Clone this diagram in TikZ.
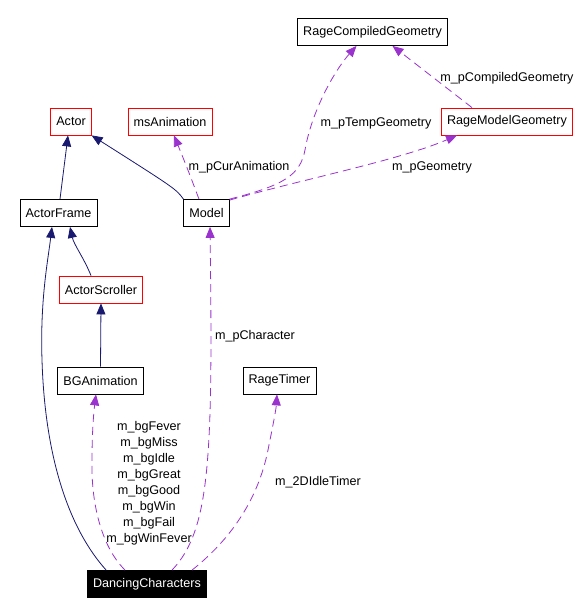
\documentclass[tikz,border=0pt]{standalone}
\usepackage{fontspec}
\setmainfont{Liberation Sans}
\usetikzlibrary{arrows.meta}
\definecolor{inhblue}{RGB}{25,25,112}
\definecolor{usepurple}{RGB}{154,50,205}

\begin{document}
\begin{tikzpicture}[x=1pt, y=-1pt, line width=0.8pt]
      \tikzstyle{every node}=[font=\fontsize{12.6}{16}\selectfont]
      \tikzstyle{cls}=[draw, minimum height=27pt, inner xsep=5.5pt, inner ysep=2pt]
      \tikzstyle{ext}=[cls, draw=red]
      \tikzstyle{inh}=[draw=inhblue, -{Triangle[length=11pt,width=9pt]}]
      \tikzstyle{use}=[draw=usepurple, dash pattern=on 8pt off 5pt, -{Triangle[length=11pt,width=9pt]}]
      \useasboundingbox (0, 0) rectangle (579, 614);
      \node [cls] (rcg) at (372.5, 32) {RageCompiledGeometry};
      \node [ext] (act) at (71, 121.5) {Actor};
      \node [ext] (msa) at (170, 121.5) {msAnimation};
      \node [ext] (rmg) at (507, 121.5) {RageModelGeometry};
      \node [cls] (af) at (58.5, 213) {ActorFrame};
      \node [cls] (mdl) at (206.5, 213) {Model};
      \node [ext] (as) at (101, 289.5) {ActorScroller};
      \node [cls] (bga) at (100.5, 380.5) {BGAnimation};
      \node [cls] (rt) at (279.5, 380.5) {RageTimer};
      \node [cls, fill=black, text=white] (dc) at (147, 584) {DancingCharacters};
      % inheritance
      \draw[inh] ([xshift=1.5]af.north) -- ([xshift=-3]act.south);
      \draw[inh] (mdl.north west) .. controls (176, 189) .. (act.south east);
      \draw[inh] ([xshift=-10]as.north) .. controls (84, 258) and (74, 245) .. ([xshift=11.5]af.south);
      \draw[inh] (bga.north) -- (as.south);
      \draw[inh] ([xshift=19]dc.north west) .. controls (70, 530) and (45, 460) .. (42, 360)
        .. controls (40, 300) and (48, 260) .. ([xshift=-6.5]af.south);
      % members
      \draw[use] ([xshift=-7.5]mdl.north) .. controls (188, 170) .. ([xshift=4]msa.south);
      \draw[use] (mdl.north east) .. controls (285, 185) and (300, 175) .. (305, 150)
        .. controls (312, 110) and (335, 70) .. ([xshift=-16]rcg.south);
      \draw[use] ([yshift=-1]mdl.north east) .. controls (300, 180) and (400, 160) .. ([xshift=-50]rmg.south);
      \draw[use] ([xshift=-35]rmg.north) .. controls (430, 75) .. ([xshift=20]rcg.south);
      \draw[use] ([xshift=25]dc.north) .. controls (210, 530) and (213, 460) .. ([xshift=3.5]mdl.south);
      \draw[use] ([xshift=-22]dc.north) .. controls (100, 545) and (91, 500) .. (92, 460)
        .. controls (92, 430) and (94, 410) .. ([xshift=-4.5]bga.south);
      \draw[use] ([xshift=45]dc.north) .. controls (230, 540) and (258, 500) .. (268, 450)
        .. controls (273, 425) and (276, 410) .. ([xshift=-2.5]rt.south);
      \node (l1) at (239, 167) {m\_pCurAnimation};
      \node (l2) at (376, 123) {m\_pTempGeometry};
      \node (l3) at (507, 78) {m\_pCompiledGeometry};
      \node (l4) at (432, 167) {m\_pGeometry};
      \node (l5) at (255, 336) {m\_pCharacter};
      \node (l6) at (318, 482) {m\_2DIdleTimer};
      \node [align=center] (l7) at (149, 483) {m\_bgFever\\m\_bgMiss\\m\_bgIdle\\m\_bgGreat\\m\_bgGood\\m\_bgWin\\m\_bgFail\\m\_bgWinFever};
    \end{tikzpicture}
\end{document}
